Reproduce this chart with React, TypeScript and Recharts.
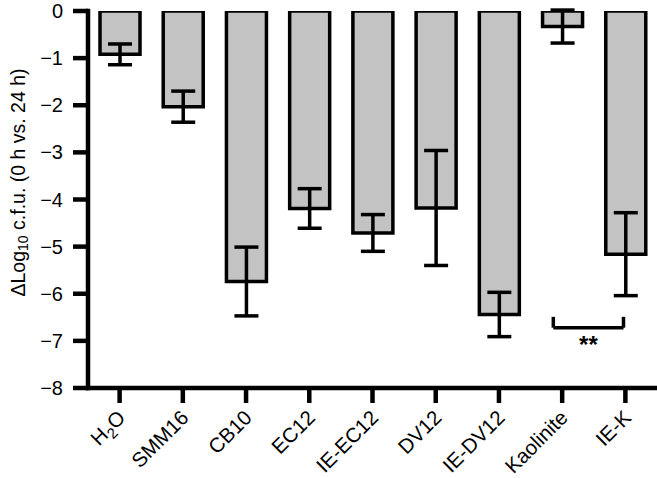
import React from 'react';
import { BarChart, Bar, XAxis, YAxis, ErrorBar, ReferenceLine } from 'recharts';

// ============================================================================
// Data
// ============================================================================

const samples = ['H2O', 'SMM16', 'CB10', 'EC12', 'IE-EC12', 'DV12', 'IE-DV12', 'Kaolinite', 'IE-K'];
const meanChange = [-0.92, -2.03, -5.74, -4.19, -4.71, -4.18, -6.44, -0.33, -5.16];
const errorRange = [0.22, 0.33, 0.73, 0.42, 0.39, 1.22, 0.47, 0.35, 0.88];
const yTicks = [0, -1, -2, -3, -4, -5, -6, -7, -8];

// significance bracket (Kaolinite vs IE-K), in category-index / value units
const bracketX = [6.86, 7.97];
const bracketY = [-6.72, -6.49];
const bracketMark = '**';

const chartData = samples.map((name, i) => ({
  name,
  idx: i,
  mean: meanChange[i],
  err: errorRange[i]
}));

const FONT = '"Liberation Sans", Arial, Helvetica, sans-serif';

// ============================================================================
// Custom labels / ticks
// ============================================================================

const SampleTick = ({ x, y, payload }: any) => {
  const name: string = payload.value;
  const isWater = name === 'H2O';
  return (
    <g transform={`translate(${x + 7},${y + 14})`}>
      <text
        transform="rotate(-45)"
        textAnchor="end"
        fontSize={20.5}
        fontFamily={FONT}
        fill="#000"
      >
        {isWater ? (
          <>
            H<tspan fontSize={15} dy={5}>2</tspan>
            <tspan dy={-5}>O</tspan>
          </>
        ) : (
          name
        )}
      </text>
    </g>
  );
};

const YLabel = ({ viewBox }: any) => {
  const cx = viewBox.x + 18;
  const cy = viewBox.y + viewBox.height / 2 - 17;
  return (
    <text
      transform={`translate(${cx},${cy}) rotate(-90)`}
      textAnchor="middle"
      dominantBaseline="central"
      fontSize={19.5}
      fontFamily={FONT}
      fill="#000"
    >
      ΔLog<tspan fontSize={14} dy={5}>10</tspan>
      <tspan dy={-5}> c.f.u. (0 h vs. 24 h)</tspan>
    </text>
  );
};

const StarsLabel = ({ viewBox }: any) => (
  <text
    x={viewBox.x + viewBox.width / 2}
    y={viewBox.y + 25}
    textAnchor="middle"
    fontSize={24}
    fontWeight="bold"
    fontFamily={FONT}
    fill="#000"
  >
    {bracketMark}
  </text>
);

const formatTick = (v: number) => String(v).replace('-', '\u2212');

// ============================================================================
// Component
// ============================================================================

export default function App() {
  const line = { stroke: '#000', strokeWidth: 4.5 };

  return (
    <div style={{ position: 'absolute', left: 0, top: 0, background: '#fff' }}>
      <BarChart
        width={657}
        height={478}
        data={chartData}
        margin={{ top: 11, right: 0, bottom: 10, left: 0 }}
        barSize={40}
      >
        <XAxis
          dataKey="name"
          height={80}
          interval={0}
          tickSize={15}
          tick={<SampleTick />}
          axisLine={{ ...line, strokeLinecap: 'square' }}
          tickLine={line}
        />
        {/* zero line across the top, drawn as a bare top axis */}
        <XAxis
          xAxisId="top"
          dataKey="name"
          orientation="top"
          height={0}
          tick={false}
          tickLine={false}
          axisLine={{ ...line, strokeLinecap: 'square' }}
        />
        {/* hidden numeric axis used only to place the bracket */}
        <XAxis
          xAxisId="pos"
          dataKey="idx"
          type="number"
          domain={[-0.5, 8.5]}
          allowDataOverflow
          hide
        />
        <YAxis
          type="number"
          domain={[-8, 0]}
          allowDataOverflow
          ticks={yTicks}
          interval={0}
          width={88}
          tickSize={15}
          tickMargin={10}
          tickFormatter={formatTick}
          tick={{ fill: '#000', fontSize: 20, fontFamily: FONT }}
          axisLine={{ ...line, strokeLinecap: 'square' }}
          tickLine={line}
          label={<YLabel />}
        />

        <Bar
          dataKey="mean"
          fill="#c3c3c3"
          stroke="#000"
          strokeWidth={3.5}
          isAnimationActive={false}
        >
          <ErrorBar dataKey="err" width={12} stroke="#000" strokeWidth={3.5} />
        </Bar>

        {/* significance bracket */}
        <ReferenceLine
          xAxisId="pos"
          segment={[
            { x: bracketX[0], y: bracketY[0] },
            { x: bracketX[1], y: bracketY[0] }
          ]}
          stroke="#000"
          strokeWidth={3.5}
          ifOverflow="visible"
          label={<StarsLabel />}
        />
        <ReferenceLine
          xAxisId="pos"
          segment={[
            { x: bracketX[0], y: bracketY[0] },
            { x: bracketX[0], y: bracketY[1] }
          ]}
          stroke="#000"
          strokeWidth={3.5}
          ifOverflow="visible"
        />
        <ReferenceLine
          xAxisId="pos"
          segment={[
            { x: bracketX[1], y: bracketY[0] },
            { x: bracketX[1], y: bracketY[1] }
          ]}
          stroke="#000"
          strokeWidth={3.5}
          ifOverflow="visible"
        />
      </BarChart>
    </div>
  );
}
